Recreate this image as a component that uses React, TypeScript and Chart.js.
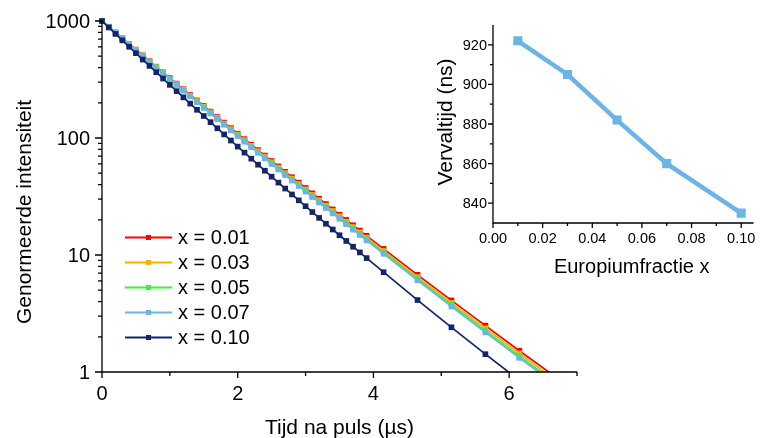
import React, { useEffect, useRef } from "react";
import { Chart, registerables } from "chart.js";

Chart.register(...registerables);

// Time after the pulse (µs) at which each intensity was sampled
const pulseTimes = [
  0, 0.1, 0.2, 0.3, 0.4, 0.5, 0.6, 0.7, 0.8, 0.9,
  1.0, 1.1, 1.2, 1.3, 1.4, 1.5, 1.6, 1.7, 1.8, 1.9,
  2.0, 2.1, 2.2, 2.3, 2.4, 2.5, 2.6, 2.7, 2.8, 2.9,
  3.0, 3.1, 3.2, 3.3, 3.4, 3.5, 3.6, 3.7, 3.8, 3.9,
  4.15, 4.65, 5.15, 5.65, 6.15, 6.65,
];

// Normalised intensity per europium fraction
const intensity001 = [
  1000, 892.8, 797.4, 712.3, 636.5, 568.9, 508.6, 454.8, 406.8, 364.0,
  325.7, 291.6, 261.1, 233.8, 209.5, 187.7, 168.3, 150.9, 135.3, 121.4,
  108.9, 97.73, 87.73, 78.78, 70.76, 63.57, 57.13, 51.36, 46.18, 41.53,
  37.36, 33.62, 30.26, 27.24, 24.53, 22.1, 19.91, 17.94, 16.18, 14.59,
  11.27, 6.77, 4.09, 2.49, 1.52, 0.939,
];
const intensity003 = [
  1000, 892.0, 795.9, 710.3, 634.0, 566.1, 505.7, 451.7, 403.7, 360.8,
  322.6, 288.5, 258.1, 230.9, 206.7, 185.0, 165.7, 148.4, 133.0, 119.1,
  106.8, 95.78, 85.9, 77.06, 69.15, 62.07, 55.72, 50.04, 44.95, 40.39,
  36.3, 32.63, 29.34, 26.39, 23.74, 21.37, 19.23, 17.32, 15.6, 14.05,
  10.83, 6.47, 3.89, 2.36, 1.44, 0.881,
];
const intensity005 = [
  1000, 891.3, 794.7, 708.7, 632.1, 564.0, 503.4, 449.4, 401.3, 358.4,
  320.2, 286.1, 255.8, 228.7, 204.5, 183.0, 163.7, 146.5, 131.2, 117.5,
  105.2, 94.28, 84.49, 75.75, 67.92, 60.91, 54.65, 49.04, 44.02, 39.52,
  35.49, 31.88, 28.65, 25.75, 23.15, 20.81, 18.72, 16.84, 15.16, 13.64,
  10.5, 6.25, 3.75, 2.26, 1.37, 0.838,
];
const intensity007 = [
  1000, 890.8, 793.7, 707.4, 630.6, 562.3, 501.5, 447.5, 399.3, 356.4,
  318.3, 284.2, 253.9, 226.9, 202.8, 181.2, 162.1, 145.0, 129.7, 116.1,
  103.9, 93.08, 83.37, 74.69, 66.93, 59.99, 53.79, 48.24, 43.27, 38.83,
  34.85, 31.28, 28.09, 25.23, 22.67, 20.37, 18.31, 16.47, 14.81, 13.32,
  10.24, 6.08, 3.63, 2.18, 1.32, 0.805,
];
const intensity010 = [
  1000, 880.3, 775.2, 683.0, 602.0, 530.8, 468.2, 413.2, 364.8, 322.2,
  284.6, 251.6, 222.5, 196.8, 174.2, 154.2, 136.6, 121.1, 107.3, 95.18,
  84.45, 74.96, 66.56, 59.13, 52.55, 46.72, 41.56, 36.98, 32.92, 29.31,
  26.12, 23.28, 20.76, 18.51, 16.52, 14.75, 13.17, 11.77, 10.52, 9.41,
  7.13, 4.12, 2.41, 1.42, 0.849,
];

// Europium fraction and fitted decay time (ns)
const europiumFractions = [0.01, 0.03, 0.05, 0.07, 0.1];
const decayTimes = [922, 905, 882, 860, 835];

const seriesColors = ["#ff0000", "#ffb000", "#3cf03c", "#6ab4e8", "#13246b"];
const seriesValues = [intensity001, intensity003, intensity005, intensity007, intensity010];

// Tick positions and labels
const timeMajorTicks = [0, 2, 4, 6];
const timeMinorTicks = [1, 3, 5, 7];
const intensityMajorTicks = [1, 10, 100, 1000];
const intensityMinorTicks = [2, 3, 4, 5, 6, 7, 8, 9, 20, 30, 40, 50, 60, 70, 80, 90, 200, 300, 400, 500, 600, 700, 800, 900];
const fractionMajorTicks = [0, 0.02, 0.04, 0.06, 0.08, 0.1];
const fractionMinorTicks = [0.01, 0.03, 0.05, 0.07, 0.09];
const decayMajorTicks = [840, 860, 880, 900, 920];
const decayMinorTicks = [850, 870, 890, 910];

const FONT = '"Liberation Sans", Arial, sans-serif';

const mainAxes = {
  id: "mainAxes",
  afterDraw(chart: any) {
    const { ctx, chartArea: a, scales } = chart;
    const x = scales.x;
    const y = scales.y;
    ctx.save();
    ctx.strokeStyle = "#000";
    ctx.fillStyle = "#000";
    ctx.lineWidth = 1.3;
    ctx.beginPath();
    ctx.moveTo(a.left, a.top);
    ctx.lineTo(a.left, a.bottom);
    ctx.lineTo(a.right, a.bottom);
    ctx.stroke();

    ctx.beginPath();
    timeMajorTicks.forEach((v) => {
      const px = x.getPixelForValue(v);
      ctx.moveTo(px, a.bottom);
      ctx.lineTo(px, a.bottom + 6);
    });
    timeMinorTicks.forEach((v) => {
      const px = x.getPixelForValue(v);
      ctx.moveTo(px, a.bottom);
      ctx.lineTo(px, a.bottom + 4);
    });
    intensityMajorTicks.forEach((v) => {
      const py = y.getPixelForValue(v);
      ctx.moveTo(a.left, py);
      ctx.lineTo(a.left - 7, py);
    });
    intensityMinorTicks.forEach((v) => {
      const py = y.getPixelForValue(v);
      ctx.moveTo(a.left, py);
      ctx.lineTo(a.left - 4, py);
    });
    ctx.stroke();

    ctx.font = `20px ${FONT}`;
    ctx.textAlign = "center";
    ctx.textBaseline = "alphabetic";
    timeMajorTicks.forEach((v) => {
      ctx.fillText(String(v), x.getPixelForValue(v), a.bottom + 28);
    });
    ctx.textAlign = "right";
    intensityMajorTicks.forEach((v) => {
      ctx.fillText(String(v), a.left - 12, y.getPixelForValue(v) + 7);
    });

    ctx.font = `21px ${FONT}`;
    ctx.textAlign = "center";
    ctx.fillText("Tijd na puls (µs)", (a.left + a.right) / 2, 434);
    ctx.save();
    ctx.translate(31, 212);
    ctx.rotate(-Math.PI / 2);
    ctx.fillText("Genormeerde intensiteit", 0, 0);
    ctx.restore();

    // legend
    ctx.font = `20px ${FONT}`;
    ctx.textAlign = "left";
    ctx.textBaseline = "middle";
    europiumFractions.forEach((f, i) => {
      const rowY = 237.5 + i * 25;
      ctx.strokeStyle = seriesColors[i];
      ctx.fillStyle = seriesColors[i];
      ctx.lineWidth = 2;
      ctx.beginPath();
      ctx.moveTo(125, rowY);
      ctx.lineTo(172, rowY);
      ctx.stroke();
      ctx.fillRect(148.5 - 2.5, rowY - 2.5, 5, 5);
      ctx.fillStyle = "#000";
      ctx.fillText(`x = ${f.toFixed(2)}`, 178, rowY + 1);
    });
    ctx.restore();
  },
};

const insetAxes = {
  id: "insetAxes",
  afterDraw(chart: any) {
    const { ctx, chartArea: a, scales } = chart;
    const x = scales.x;
    const y = scales.y;
    ctx.save();
    ctx.strokeStyle = "#000";
    ctx.fillStyle = "#000";
    ctx.lineWidth = 1.3;
    ctx.beginPath();
    ctx.moveTo(a.left, a.top);
    ctx.lineTo(a.left, a.bottom);
    ctx.lineTo(a.right, a.bottom);
    ctx.stroke();

    ctx.beginPath();
    fractionMajorTicks.forEach((v) => {
      const px = x.getPixelForValue(v);
      ctx.moveTo(px, a.bottom);
      ctx.lineTo(px, a.bottom + 5);
    });
    fractionMinorTicks.forEach((v) => {
      const px = x.getPixelForValue(v);
      ctx.moveTo(px, a.bottom);
      ctx.lineTo(px, a.bottom + 3);
    });
    decayMajorTicks.forEach((v) => {
      const py = y.getPixelForValue(v);
      ctx.moveTo(a.left, py);
      ctx.lineTo(a.left - 5, py);
    });
    decayMinorTicks.forEach((v) => {
      const py = y.getPixelForValue(v);
      ctx.moveTo(a.left, py);
      ctx.lineTo(a.left - 3, py);
    });
    ctx.stroke();

    ctx.font = `14.5px ${FONT}`;
    ctx.textAlign = "center";
    ctx.textBaseline = "alphabetic";
    fractionMajorTicks.forEach((v) => {
      ctx.fillText(v.toFixed(2), x.getPixelForValue(v), a.bottom + 20);
    });
    ctx.textAlign = "right";
    decayMajorTicks.forEach((v) => {
      ctx.fillText(String(v), a.left - 6, y.getPixelForValue(v) + 5);
    });

    ctx.font = `20px ${FONT}`;
    ctx.textAlign = "center";
    ctx.fillText("Europiumfractie x", 211.7, 273);
    ctx.font = `21px ${FONT}`;
    ctx.save();
    ctx.translate(31.5, 122);
    ctx.rotate(-Math.PI / 2);
    ctx.fillText("Vervaltijd (ns)", 0, 0);
    ctx.restore();
    ctx.restore();
  },
};

export default function App() {
  const mainRef = useRef<HTMLCanvasElement>(null);
  const insetRef = useRef<HTMLCanvasElement>(null);

  useEffect(() => {
    document.body.style.margin = "0";

    const datasets = seriesValues.map((vals, i) => ({
      label: `x = ${europiumFractions[i].toFixed(2)}`,
      data: vals.map((v, k) => ({ x: pulseTimes[k], y: v })),
      borderColor: seriesColors[i],
      backgroundColor: seriesColors[i],
      pointBackgroundColor: seriesColors[i],
      borderWidth: 1.7,
      pointStyle: "rect" as const,
      pointRadius: 4,
      pointBorderWidth: 0,
      tension: 0,
      order: seriesValues.length - i,
      clip: { left: 5, top: 5, right: 5, bottom: 0 },
    }));

    const main = new Chart(mainRef.current!, {
      type: "line",
      data: { datasets },
      options: {
        responsive: false,
        animation: false,
        events: [],
        layout: { padding: { left: 102, top: 21, right: 183, bottom: 66 } },
        plugins: { legend: { display: false }, tooltip: { enabled: false } },
        scales: {
          x: { type: "linear", min: 0, max: 7, display: false },
          y: { type: "logarithmic", min: 1, max: 1000, display: false },
        },
      },
      plugins: [mainAxes],
    });

    const inset = new Chart(insetRef.current!, {
      type: "line",
      data: {
        datasets: [
          {
            label: "Vervaltijd",
            data: europiumFractions.map((f, i) => ({ x: f, y: decayTimes[i] })),
            borderColor: "#6ab4e8",
            backgroundColor: "#6ab4e8",
            pointBackgroundColor: "#6ab4e8",
            borderWidth: 4.5,
            pointStyle: "rect",
            pointRadius: 6.4,
            pointBorderWidth: 0,
            tension: 0,
            clip: 10,
          },
        ],
      },
      options: {
        responsive: false,
        animation: false,
        events: [],
        layout: { padding: { left: 73, top: 25, right: 4, bottom: 67 } },
        plugins: { legend: { display: false }, tooltip: { enabled: false } },
        scales: {
          x: { type: "linear", min: 0, max: 0.105, display: false },
          y: { type: "linear", min: 830, max: 930, display: false },
        },
      },
      plugins: [insetAxes],
    });

    return () => {
      main.destroy();
      inset.destroy();
    };
  }, []);

  return (
    <div style={{ position: "relative", width: 760, height: 438, background: "#fff", overflow: "hidden" }}>
      <canvas ref={mainRef} width={760} height={438} style={{ position: "absolute", left: 0, top: 0 }} />
      <canvas ref={insetRef} width={340} height={290} style={{ position: "absolute", left: 420, top: 0 }} />
    </div>
  );
}
